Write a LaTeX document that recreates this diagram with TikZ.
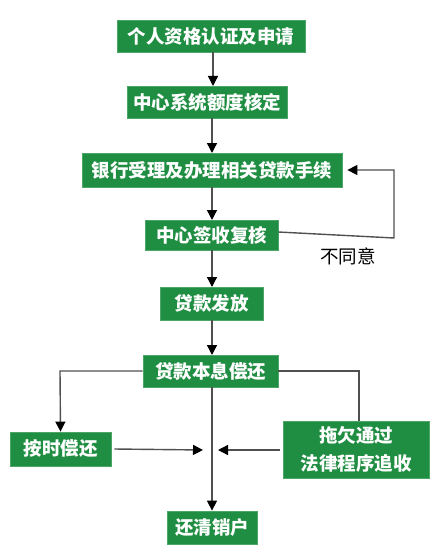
\documentclass[tikz,border=0pt]{standalone}
\usepackage{fontspec}
\newfontfamily\cjk{Noto Sans CJK SC}
\usetikzlibrary{arrows.meta}
\definecolor{boxgreen}{RGB}{32,142,66}
\definecolor{linegray}{RGB}{80,80,80}
\tikzset{
  gbox/.style={draw=boxgreen!80!white, line width=0.8pt, fill=boxgreen, text=white, inner sep=0pt, align=center,
    font=\cjk\bfseries\fontsize{18.5}{28}\selectfont},
  conn/.style={draw=linegray, line width=1.4pt, -{Triangle[width=10pt,length=10pt,color=black]}},
  plain/.style={draw=linegray, line width=1.4pt}
}
\begin{document}
\begin{tikzpicture}[x=1pt,y=-1pt]
\useasboundingbox (0,0) rectangle (442,559);
\fill[white] (0,0) rectangle (442,559);
\node[gbox, minimum width=188pt, minimum height=32pt] (n1) at (211,36) {个人资格认证及申请};
\node[gbox, minimum width=160pt, minimum height=32pt] (n2) at (207,102) {中心系统额度核定};
\node[gbox, minimum width=260pt, minimum height=34pt] (n3) at (212,170) {银行受理及办理相关贷款手续};
\node[gbox, minimum width=133pt, minimum height=30pt] (n4) at (211.5,235) {中心签收复核};
\node[gbox, minimum width=103pt, minimum height=33pt] (n5) at (211.5,303.5) {贷款发放};
\node[gbox, minimum width=135pt, minimum height=32pt] (n6) at (210.5,371) {贷款本息偿还};
\node[gbox, minimum width=101pt, minimum height=34pt] (n7) at (60.5,449) {按时偿还};
\node[gbox, minimum width=146pt, minimum height=57pt] (n8) at (356,449.5) {拖欠通过\\法律程序追收};
\node[gbox, minimum width=90pt, minimum height=33pt] (n9) at (212,527.5) {还清销户};
\node[font=\cjk\fontsize{18.5}{22}\selectfont, text=black] (lab) at (348,256) {不同意};

\coordinate (r1) at (394,170);
\coordinate (r2) at (394,238);
\coordinate (l1) at (60,371);
\coordinate (q1) at (359,371);
\coordinate (ml) at (203,450);
\coordinate (mr) at (218,450);

\draw[conn] (213,52) -- (213,86);
\draw[conn] (212,118) -- (212,153);
\draw[conn] (212,187) -- (212,220);
\draw[conn] (212,250) -- (212,287);
\draw[conn] (212,320) -- (212,355);
\draw[conn] ([yshift=3pt]n4.east) -- (r2) -- (r1) -- ([xshift=5pt]n3.east);
\draw[conn] (n6.west) -- (l1) -- (n7.north);
\draw[plain] (n6.east) -- (q1) -- (n8.north -| q1);
\draw[conn] (n6.south -| n9.north) -- (n9.north);
\draw[conn] ([xshift=3pt]n7.east) -- (ml);
\draw[conn] ([xshift=-3pt]n8.west |- mr) -- (mr);
\end{tikzpicture}
\end{document}
